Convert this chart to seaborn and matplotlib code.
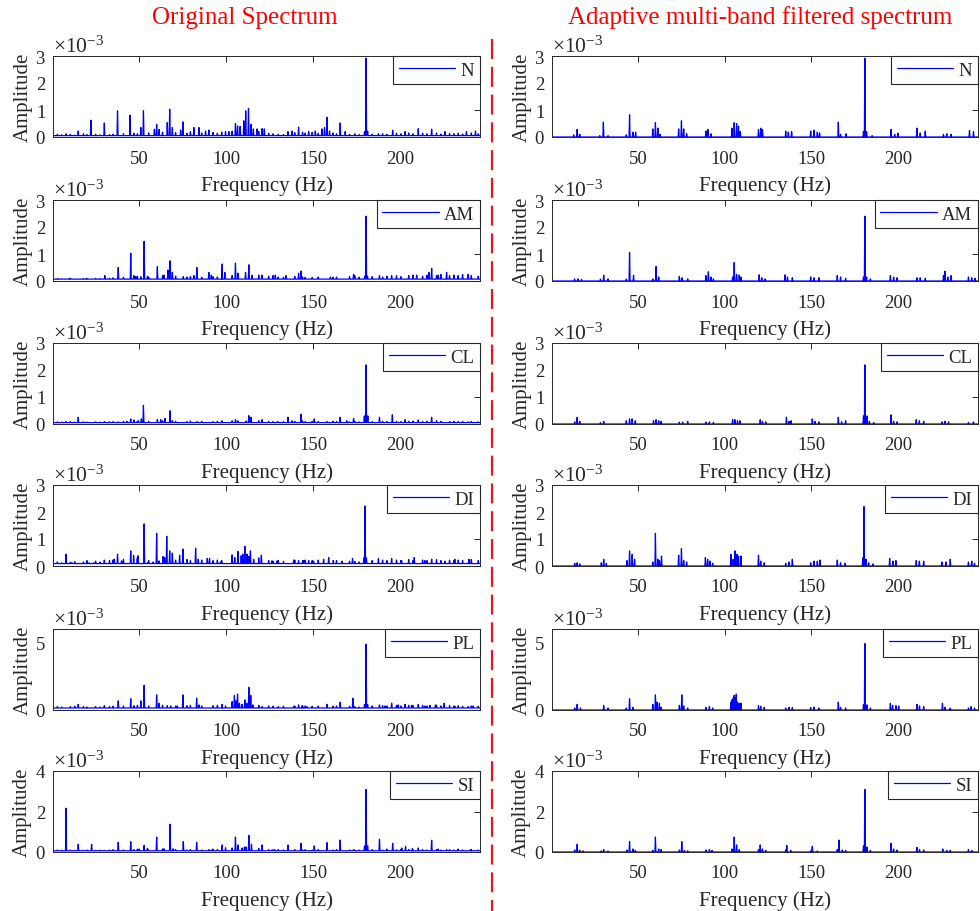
import numpy as np
import pandas as pd
import matplotlib
matplotlib.use("Agg")
import matplotlib.pyplot as plt
from matplotlib.lines import Line2D
from matplotlib.ticker import ScalarFormatter, FixedLocator
import seaborn as sns

# ---------------------------------------------------------------------------
# Spectral peaks (frequency in Hz, amplitude in units of 1e-3)
# ---------------------------------------------------------------------------
classes = ["N", "AM", "CL", "DI", "PL", "SI"]
y_top = [3, 3, 3, 3, 6, 4]
y_ticks = [[0, 1, 2, 3], [0, 1, 2, 3], [0, 1, 2, 3], [0, 1, 2, 3], [0, 5], [0, 2, 4]]
x_ticks = [50, 100, 150, 200]
x_range = [0.5, 246.0]

# noise floor of each raw spectrum
orig_floor = [0.05, 0.07, 0.05, 0.09, 0.15, 0.06]

# --- raw spectra: dominant lines ---
N_orig_f = [8, 15, 22.3, 30, 37.6, 44.8, 51, 52.5, 58.8, 60.1, 61.5, 66.2, 67.6, 69.1, 73.9, 75.2,
            81.5, 84.4, 88.2, 90.1, 99.7, 101.6, 105.4, 106.6, 108.1, 110.2, 111.3, 112.9, 114.4,
            115.7, 117.8, 120.7, 122, 135.6, 137.9, 141.7, 147.5, 151.3, 155.1, 156.6, 158, 159.5,
            165.6, 168.5, 179.6, 180.5, 181.4, 187.6, 195.8, 202.9, 210.5, 218.2, 225.8, 238.2, 243.4]
N_orig_a = [0.12, 0.22, 0.62, 0.52, 0.97, 0.81, 0.35, 0.97, 0.29, 0.47, 0.28, 0.53, 1.03, 0.35, 0.26, 0.56,
            0.35, 0.35, 0.22, 0.26, 0.2, 0.2, 0.5, 0.41, 0.39, 0.6, 0.97, 1.06, 0.47,
            0.3, 0.3, 0.31, 0.3, 0.2, 0.22, 0.37, 0.2, 0.22, 0.3, 0.35, 0.73, 0.22,
            0.52, 0.2, 0.2, 2.92, 0.22, 0.12, 0.25, 0.2, 0.31, 0.29, 0.2, 0.2, 0.22]

AM_orig_f = [10, 20, 30.3, 38, 45.2, 48, 51, 52.9, 54.8, 60.5, 64.3, 66.6, 67.8, 69.1, 75.4, 81.5, 83.2,
             90.1, 91.5, 97.8, 99.3, 105.4, 106.9, 111.2, 113.1, 115, 120.7, 128.3, 134.5, 141.7, 143.1,
             160, 173.3, 179.7, 180.5, 181.3, 188.2, 195.2, 209.6, 216.6, 218.2, 222, 226.8, 233.4, 239.2]
AM_orig_a = [0.1, 0.1, 0.2, 0.5, 1.03, 0.16, 0.16, 1.47, 0.16, 0.53, 0.22, 0.41, 0.75, 0.32, 0.16, 0.2, 0.5,
             0.32, 0.22, 0.63, 0.32, 0.66, 0.29, 0.32, 0.6, 0.22, 0.22, 0.22, 0.2, 0.29, 0.37,
             0.15, 0.25, 0.18, 2.4, 0.18, 0.2, 0.2, 0.22, 0.32, 0.47, 0.22, 0.32, 0.2, 0.25]

CL_orig_f = [8, 15, 30, 38, 43, 45.2, 47.1, 49.6, 51.3, 52.5, 60.5, 62.4, 64.9, 67.8, 69.1, 79.6, 83.4,
             97.8, 105.4, 106.8, 111.5, 113.1, 114.4, 120.7, 129.3, 135.6, 137.9, 143.1, 150.7, 158,
             165.6, 169.4, 173.3, 179.5, 180.5, 181.5, 188.2, 195.6, 202.9, 210.5, 218.2, 228.7, 239.2]
CL_orig_a = [0.09, 0.25, 0.09, 0.08, 0.1, 0.19, 0.15, 0.12, 0.19, 0.69, 0.16, 0.16, 0.21, 0.49, 0.12, 0.1, 0.09,
             0.12, 0.16, 0.12, 0.11, 0.31, 0.25, 0.16, 0.08, 0.25, 0.12, 0.36, 0.19, 0.09,
             0.25, 0.12, 0.21, 0.3, 2.19, 0.3, 0.25, 0.34, 0.16, 0.15, 0.25, 0.08, 0.08]

DI_orig_f = [8, 11.4, 15.6, 21.3, 23.8, 30, 35.7, 37.6, 39.9, 45.2, 46.8, 49.4, 52.9, 54.8, 58, 60.1, 61.5,
             63.8, 64.7, 65.9, 67.6, 69.1, 73.3, 75.2, 77.7, 82.5, 84, 89.2, 90.5, 96.8, 103.5, 105,
             106.8, 108.7, 109.6, 110.8, 112.1, 113.1, 114, 115.9, 120.3, 126.4, 129.3, 138.9, 141.7,
             144.6, 147.5, 150.3, 156.1, 159, 161.8, 166.6, 172.7, 179.2, 179.9, 180.7, 187.6, 195.2,
             200.9, 208.2, 214.3, 218.2, 225.8, 231.5, 239.6]
DI_orig_a = [0.44, 0.12, 0.1, 0.12, 0.12, 0.22, 0.25, 0.44, 0.19, 0.56, 0.4, 0.38, 1.56, 0.12, 0.15, 1.21, 0.19,
             0.35, 0.31, 1.1, 0.56, 0.48, 0.4, 0.63, 0.15, 0.66, 0.25, 0.28, 0.28, 0.15, 0.41, 0.31,
             0.54, 0.38, 0.44, 0.73, 0.44, 0.35, 0.56, 0.25, 0.4, 0.19, 0.19, 0.22, 0.2,
             0.2, 0.2, 0.18, 0.25, 0.31, 0.2, 0.18, 0.28, 0.3, 2.22, 0.3, 0.28, 0.28,
             0.2, 0.31, 0.2, 0.25, 0.18, 0.25, 0.25]

PL_orig_f = [15, 19.8, 30, 38, 45.2, 51, 52.9, 60.1, 61.5, 66.2, 68.2, 72, 75.2, 83.1, 84.4, 97.8, 99.7,
             103.5, 104.8, 105.8, 106.6, 107.7, 109.2, 110.8, 111.9, 113.1, 114.2, 115.4, 118.8, 120.7,
             138.9, 141.7, 143.6, 146.5, 158, 165.6, 172.9, 179.6, 180.5, 181.4, 188.2, 191.4, 195.2,
             199, 202.9, 206.7, 210.5, 214.3, 217.2, 220.4, 225.4, 231.5, 239.2, 242]
PL_orig_a = [0.42, 0.15, 0.32, 0.68, 0.83, 0.68, 1.83, 1.12, 0.5, 0.32, 0.3, 0.3, 1.12, 0.88, 0.38, 0.42, 0.3,
             0.62, 1.08, 0.68, 1.18, 0.5, 0.42, 0.75, 0.5, 1.68, 1.08, 0.38, 0.3, 0.25,
             0.25, 0.38, 0.28, 0.25, 0.42, 0.58, 0.88, 0.4, 4.88, 0.4, 0.38, 0.3, 0.5,
             0.38, 0.42, 0.35, 0.42, 0.3, 0.35, 0.38, 0.5, 0.28, 0.25, 0.3]

SI_orig_f = [8, 15, 22.7, 30, 38, 45.2, 50, 52.9, 54.8, 60.1, 64.3, 67.8, 69.5, 75.4, 83.1, 90.1, 92,
             97.8, 99.7, 105.4, 106.9, 109.2, 110.6, 111.5, 113.1, 114.6, 120.7, 126.4, 127.9, 135.6,
             143.1, 150.7, 158, 165.6, 173.3, 179.6, 180.5, 181.4, 188.2, 192.4, 195.8, 201, 203.2,
             207.2, 210.5, 218.2, 222, 226.8, 233.4, 240.7]
SI_orig_a = [2.16, 0.38, 0.38, 0.08, 0.48, 0.51, 0.15, 0.33, 0.18, 0.74, 0.16, 1.37, 0.16, 0.51, 0.48, 0.12, 0.12,
             0.35, 0.21, 0.74, 0.35, 0.2, 0.25, 0.25, 0.82, 0.38, 0.35, 0.1, 0.12, 0.35,
             0.43, 0.3, 0.46, 0.59, 0.12, 0.3, 3.09, 0.3, 0.63, 0.15, 0.43, 0.2, 0.28,
             0.18, 0.2, 0.58, 0.15, 0.12, 0.15, 0.12]

# --- raw spectra: small lines in the noise floor ---
minor_f = [3, 5.5, 10.5, 13, 18, 20, 25, 27.5, 33, 35, 41, 47, 49, 55.5, 63.5, 71, 77.5, 79.5, 86, 92.5,
           95, 97.5, 103.5, 118.8, 124.5, 127, 130, 133, 139.5, 144, 145.5, 149.5, 153, 161.5, 163.5,
           171, 174, 176.5, 184, 190, 192.5, 198, 200.5, 205, 207.5, 213, 215.5, 221, 223.5, 228.5,
           231, 233.5, 236, 241, 245]
N_minor_a = [0.1, 0.08, 0.1, 0.07, 0.12, 0.09, 0.1, 0.08, 0.09, 0.1, 0.12, 0.14, 0.12, 0.15, 0.18, 0.16,
             0.14, 0.2, 0.15, 0.17, 0.14, 0.18, 0.22, 0.2, 0.14, 0.12, 0.1, 0.09, 0.16, 0.18, 0.15, 0.17,
             0.14, 0.15, 0.12, 0.1, 0.12, 0.09, 0.1, 0.12, 0.1, 0.14, 0.12, 0.15, 0.12, 0.14, 0.12, 0.15,
             0.11, 0.13, 0.12, 0.14, 0.11, 0.15, 0.12]
AM_minor_a = [0.09, 0.08, 0.1, 0.07, 0.09, 0.08, 0.1, 0.09, 0.1, 0.12, 0.14, 0.2, 0.18, 0.15, 0.2, 0.18,
              0.15, 0.17, 0.14, 0.16, 0.15, 0.18, 0.2, 0.22, 0.18, 0.2, 0.15, 0.14, 0.17, 0.15, 0.14, 0.13,
              0.15, 0.14, 0.15, 0.16, 0.2, 0.14, 0.16, 0.15, 0.18, 0.2, 0.16, 0.2, 0.22, 0.18, 0.22, 0.2,
              0.24, 0.2, 0.22, 0.2, 0.24, 0.2, 0.18]
CL_minor_a = [0.08, 0.07, 0.09, 0.07, 0.08, 0.07, 0.08, 0.07, 0.08, 0.09, 0.1, 0.12, 0.1, 0.1, 0.12, 0.1,
              0.09, 0.11, 0.1, 0.09, 0.1, 0.11, 0.12, 0.12, 0.1, 0.09, 0.08, 0.09, 0.1, 0.11, 0.09, 0.1,
              0.09, 0.1, 0.09, 0.08, 0.1, 0.08, 0.09, 0.1, 0.09, 0.1, 0.09, 0.1, 0.11, 0.09, 0.1, 0.12,
              0.1, 0.09, 0.1, 0.09, 0.1, 0.09, 0.08]
DI_minor_a = [0.15, 0.12, 0.14, 0.16, 0.15, 0.2, 0.18, 0.15, 0.2, 0.22, 0.25, 0.28, 0.3, 0.2, 0.25, 0.22,
              0.24, 0.2, 0.22, 0.2, 0.22, 0.2, 0.25, 0.3, 0.2, 0.18, 0.2, 0.17, 0.22, 0.2, 0.22, 0.2,
              0.22, 0.2, 0.2, 0.18, 0.17, 0.15, 0.2, 0.22, 0.2, 0.22, 0.2, 0.24, 0.2, 0.22, 0.2, 0.24,
              0.2, 0.22, 0.2, 0.22, 0.2, 0.24, 0.2]
PL_minor_a = [0.25, 0.22, 0.25, 0.28, 0.25, 0.22, 0.25, 0.22, 0.25, 0.28, 0.3, 0.32, 0.35, 0.3, 0.35, 0.3,
              0.32, 0.35, 0.3, 0.32, 0.35, 0.3, 0.4, 0.35, 0.3, 0.28, 0.25, 0.28, 0.3, 0.32, 0.3, 0.28,
              0.3, 0.28, 0.3, 0.28, 0.25, 0.22, 0.3, 0.32, 0.3, 0.35, 0.3, 0.35, 0.32, 0.35, 0.3, 0.35,
              0.3, 0.32, 0.3, 0.32, 0.28, 0.3, 0.28]
SI_minor_a = [0.1, 0.08, 0.1, 0.08, 0.09, 0.1, 0.08, 0.09, 0.1, 0.12, 0.1, 0.12, 0.14, 0.1, 0.15, 0.12,
              0.1, 0.12, 0.1, 0.14, 0.12, 0.15, 0.2, 0.18, 0.12, 0.1, 0.12, 0.1, 0.12, 0.1, 0.12, 0.1,
              0.12, 0.1, 0.12, 0.1, 0.09, 0.1, 0.12, 0.1, 0.12, 0.11, 0.13, 0.12, 0.1, 0.12, 0.1, 0.12,
              0.1, 0.12, 0.1, 0.11, 0.1, 0.12, 0.1]

# --- adaptive multi-band filtered spectra ---
N_filt_f = [13, 15, 16.5, 28, 30.1, 32.8, 43.3, 45.2, 47.1, 48.7, 58.6, 60.1, 61.5, 62.8, 73.5, 75.1, 76.4,
            78.1, 89.2, 90.4, 92.1, 104.2, 105.5, 106.9, 108, 109, 119.5, 120.8, 121.8, 135.2, 136.7,
            138.6, 149.6, 151.5, 153.4, 154.7, 165.5, 166.8, 170, 180, 180.8, 181.8, 185, 195.9, 198,
            199.9, 210.8, 212.7, 215.6, 226.1, 228, 230.5, 241.1, 243.4]
N_filt_a = [0.08, 0.28, 0.1, 0.05, 0.55, 0.05, 0.08, 0.82, 0.18, 0.18, 0.3, 0.53, 0.33, 0.1, 0.3, 0.6, 0.3,
            0.12, 0.22, 0.28, 0.12, 0.33, 0.53, 0.5, 0.4, 0.2, 0.28, 0.33, 0.28, 0.22, 0.18,
            0.2, 0.22, 0.25, 0.18, 0.15, 0.55, 0.1, 0.12, 0.2, 2.92, 0.2, 0.05, 0.28, 0.1,
            0.14, 0.33, 0.15, 0.22, 0.1, 0.12, 0.1, 0.24, 0.2]

AM_filt_f = [13.5, 15.5, 17.5, 28.4, 30.3, 32.8, 43.3, 45.2, 47.5, 58.6, 60.5, 62, 73.9, 75.5, 78.7, 89.2,
             90.6, 92.1, 93.5, 104.6, 105.5, 106.9, 108.4, 109.4, 119.9, 121.4, 123.3, 134.8, 136.2, 139,
             149.6, 151.5, 154.3, 164.9, 166.8, 169.7, 180, 180.8, 181.8, 184, 195.5, 197.4, 199.3,
             210.8, 212.7, 215.6, 226.1, 227, 228.6, 230.5, 240.5, 242.4, 244.3]
AM_filt_a = [0.08, 0.08, 0.06, 0.07, 0.21, 0.08, 0.07, 1.05, 0.21, 0.08, 0.54, 0.15, 0.17, 0.12, 0.08, 0.2,
             0.34, 0.15, 0.08, 0.15, 0.68, 0.25, 0.22, 0.15, 0.23, 0.12, 0.08, 0.23, 0.15, 0.12,
             0.15, 0.12, 0.12, 0.2, 0.15, 0.1, 0.15, 2.4, 0.15, 0.08, 0.2, 0.15, 0.12,
             0.12, 0.12, 0.1, 0.2, 0.36, 0.15, 0.2, 0.15, 0.12, 0.1]

CL_filt_f = [13.6, 15, 16.5, 28.4, 30.3, 43.3, 45.2, 46.7, 48.5, 59, 60.5, 62, 63.4, 73.9, 75.8, 78.7, 89.2,
             91.2, 93.5, 104.6, 105.9, 107.4, 108.8, 120.5, 121.8, 123.7, 135.6, 137.1, 138.3, 150.5,
             152, 154.3, 165.5, 167.4, 169.7, 180, 180.8, 182, 183.4, 185.9, 195.9, 197.4, 199.3, 210.4,
             212.2, 214.7, 225.2, 227, 229, 240.5, 243.4]
CL_filt_a = [0.08, 0.25, 0.1, 0.05, 0.1, 0.12, 0.19, 0.19, 0.12, 0.12, 0.16, 0.12, 0.1, 0.07, 0.07, 0.1, 0.07,
             0.08, 0.06, 0.16, 0.16, 0.12, 0.12, 0.16, 0.1, 0.08, 0.25, 0.1, 0.12, 0.19,
             0.1, 0.08, 0.25, 0.08, 0.12, 0.3, 2.19, 0.3, 0.1, 0.05, 0.34, 0.1, 0.08, 0.16,
             0.12, 0.1, 0.08, 0.1, 0.08, 0.06, 0.08]

DI_filt_f = [13.6, 15, 16.5, 28.9, 30.3, 31.8, 43.7, 45.2, 46.7, 48.1, 58.6, 60.1, 61.5, 62.4, 63.6, 73.5,
             75.1, 76.4, 78.1, 88.9, 90.2, 91.5, 93.1, 103.6, 104.9, 105.9, 107.1, 108, 109.4, 119.5,
             120.8, 122.8, 135.2, 137.1, 139, 149.6, 151.5, 153.4, 154.9, 164.9, 166.8, 169.3, 179.6,
             180.3, 181.5, 183, 185.4, 195.1, 197, 198.7, 210.4, 212.2, 214.7, 225.2, 227.5, 230,
             240.5, 242.4, 244]
DI_filt_a = [0.1, 0.12, 0.08, 0.12, 0.25, 0.1, 0.2, 0.56, 0.43, 0.25, 0.15, 1.21, 0.25, 0.2, 0.37, 0.4,
             0.64, 0.2, 0.15, 0.31, 0.25, 0.18, 0.1, 0.43, 0.25, 0.56, 0.43, 0.37, 0.37, 0.4,
             0.18, 0.12, 0.1, 0.15, 0.25, 0.12, 0.18, 0.18, 0.22, 0.22, 0.12, 0.1, 0.3,
             2.2, 0.25, 0.12, 0.08, 0.28, 0.18, 0.2, 0.2, 0.18, 0.18, 0.15, 0.15, 0.25,
             0.15, 0.18, 0.1]

PL_filt_f = [13.6, 15, 16.9, 30.3, 32.8, 43.3, 45.2, 47.1, 58.6, 60.1, 61.1, 62.4, 63.4, 73.9, 75.3, 76.4,
             78.7, 89.2, 91.2, 93.1, 103.6, 104.2, 105, 105.5, 106.1, 106.7, 107.4, 108.4, 109.4, 119.5,
             120.8, 122.8, 135.2, 137.1, 139, 149.6, 151.5, 154.3, 165.5, 166.8, 169.7, 180, 180.8,
             182, 184, 195.5, 196.8, 198.7, 200.3, 210.8, 212.3, 214.7, 225.5, 227, 230, 240.5, 242, 244]
PL_filt_a = [0.15, 0.42, 0.15, 0.32, 0.15, 0.15, 0.83, 0.2, 0.42, 1.12, 0.58, 0.5, 0.2, 0.35, 1.12, 0.3,
             0.15, 0.2, 0.25, 0.15, 0.58, 0.75, 0.92, 1.08, 0.88, 1.18, 0.58, 0.5, 0.5, 0.32,
             0.28, 0.2, 0.15, 0.2, 0.18, 0.18, 0.22, 0.15, 0.58, 0.2, 0.15, 0.4, 4.92,
             0.38, 0.15, 0.5, 0.35, 0.32, 0.3, 0.42, 0.3, 0.25, 0.5, 0.2, 0.15, 0.15, 0.25, 0.15]

SI_filt_f = [13.6, 15, 16.5, 18.4, 28.9, 30.3, 32.8, 43.7, 45.2, 47.1, 48.5, 58.6, 60.1, 62, 63.4, 73.9,
             75.3, 76.8, 78.7, 89.2, 91.2, 92.7, 104.2, 105.5, 106.9, 108.4, 119.5, 120.5, 121.8, 123.7,
             135.2, 135.8, 138.1, 149.6, 150.5, 153.4, 164.9, 165.9, 167.8, 169.7, 180, 180.8, 182, 184,
             195.9, 197.4, 199.3, 210.8, 212.3, 214.7, 225.7, 228, 230, 240.5, 242.4]
SI_filt_a = [0.1, 0.38, 0.08, 0.06, 0.06, 0.12, 0.05, 0.1, 0.51, 0.15, 0.08, 0.08, 0.74, 0.15, 0.12, 0.1,
             0.51, 0.08, 0.06, 0.1, 0.12, 0.08, 0.15, 0.74, 0.35, 0.12, 0.12, 0.35, 0.15, 0.08,
             0.1, 0.33, 0.08, 0.06, 0.28, 0.05, 0.12, 0.59, 0.1, 0.08, 0.3, 3.09, 0.25, 0.08,
             0.43, 0.15, 0.1, 0.23, 0.12, 0.1, 0.15, 0.08, 0.08, 0.12, 0.08]

orig_peaks = [(N_orig_f, N_orig_a), (AM_orig_f, AM_orig_a), (CL_orig_f, CL_orig_a),
              (DI_orig_f, DI_orig_a), (PL_orig_f, PL_orig_a), (SI_orig_f, SI_orig_a)]
orig_minor = [N_minor_a, AM_minor_a, CL_minor_a, DI_minor_a, PL_minor_a, SI_minor_a]
filt_peaks = [(N_filt_f, N_filt_a), (AM_filt_f, AM_filt_a), (CL_filt_f, CL_filt_a),
              (DI_filt_f, DI_filt_a), (PL_filt_f, PL_filt_a), (SI_filt_f, SI_filt_a)]

column_titles = ["Original Spectrum", "Adaptive multi-band filtered spectrum"]
SCALE = 1e-3


def spectrum_frame(freqs, amps, floor, half_width=0.3):
    """Trace each spectral line as a narrow spike standing on the noise floor."""
    xs = [x_range[0], x_range[1]]
    ys = [floor, floor]
    for f, a in zip(freqs, amps):
        xs += [f - half_width, f, f + half_width]
        ys += [floor, a, floor]
    df = pd.DataFrame({"freq": xs, "amp": np.array(ys) * SCALE})
    return df.sort_values("freq", kind="mergesort").reset_index(drop=True)


# ---------------------------------------------------------------------------
# Figure
# ---------------------------------------------------------------------------
sns.set_theme(style="white")
plt.rcParams["font.family"] = ["Liberation Serif", "DejaVu Serif"]
plt.rcParams["mathtext.fontset"] = "custom"
plt.rcParams["mathtext.rm"] = "Liberation Serif"
plt.rcParams["mathtext.it"] = "Liberation Serif:italic"
plt.rcParams["axes.unicode_minus"] = True

W, H = 980, 912
fig = plt.figure(figsize=(W / 100, H / 100), dpi=100)

ink = "#262626"
col_left = [53, 552]
col_right = [480, 978]
row_top = [57, 201, 344, 486, 630, 772]
row_h = 81

for c in range(2):
    for r, name in enumerate(classes):
        x0 = col_left[c] / W
        w = (col_right[c] - col_left[c]) / W
        y0 = 1 - (row_top[r] + row_h) / H
        ax = fig.add_axes([x0, y0, w, row_h / H])

        if c == 0:
            f, a = orig_peaks[r]
            df = spectrum_frame(list(f) + minor_f, list(a) + orig_minor[r], orig_floor[r])
        else:
            f, a = filt_peaks[r]
            df = spectrum_frame(f, a, 0.0)

        sns.lineplot(data=df, x="freq", y="amp", ax=ax, color="#0000FF", lw=0.9,
                     estimator=None, sort=False, label=name)

        ax.set_xlim(*x_range)
        ax.set_ylim(0, y_top[r] * SCALE)
        ax.xaxis.set_major_locator(FixedLocator(x_ticks))
        ax.yaxis.set_major_locator(FixedLocator([t * SCALE for t in y_ticks[r]]))
        fmt = ScalarFormatter(useMathText=True)
        fmt.set_powerlimits((-2, 2))
        ax.yaxis.set_major_formatter(fmt)
        ax.yaxis.get_offset_text().set_fontsize(15.5)
        ax.yaxis.get_offset_text().set_color(ink)

        ax.tick_params(direction="in", top=True, right=True, length=4, width=0.7,
                       labelsize=13.5, colors=ink)
        ax.tick_params(axis="x", pad=9)
        ax.tick_params(axis="y", pad=5)
        for s in ax.spines.values():
            s.set_visible(True)
            s.set_color(ink)
            s.set_linewidth(0.7)

        ax.set_xlabel("Frequency (Hz)", fontsize=15, color=ink, labelpad=6.5)
        ax.set_ylabel("Amplitude", fontsize=15, color=ink, labelpad=2)

        leg = ax.legend(loc="upper right", fontsize=13.5, frameon=True, fancybox=False,
                        edgecolor=ink, framealpha=1, borderaxespad=0.0, handlelength=3.0,
                        handletextpad=0.3, borderpad=0.3)
        leg.get_frame().set_linewidth(0.8)
        for t in leg.get_texts():
            t.set_color(ink)

fig.text(245 / W, 1 - 18 / H, column_titles[0], color="#FF0000", fontsize=18,
         ha="center", va="center")
fig.text(760 / W, 1 - 18 / H, column_titles[1], color="#FF0000", fontsize=18,
         ha="center", va="center")

# dashed separator between the two columns
sep = Line2D([492 / W, 492 / W], [1 - 40 / H, 0.0], transform=fig.transFigure,
             color="#E8171E", lw=1.6)
sep.set_dashes([9, 3.5])
fig.add_artist(sep)

fig.savefig("out.png", dpi=100)
